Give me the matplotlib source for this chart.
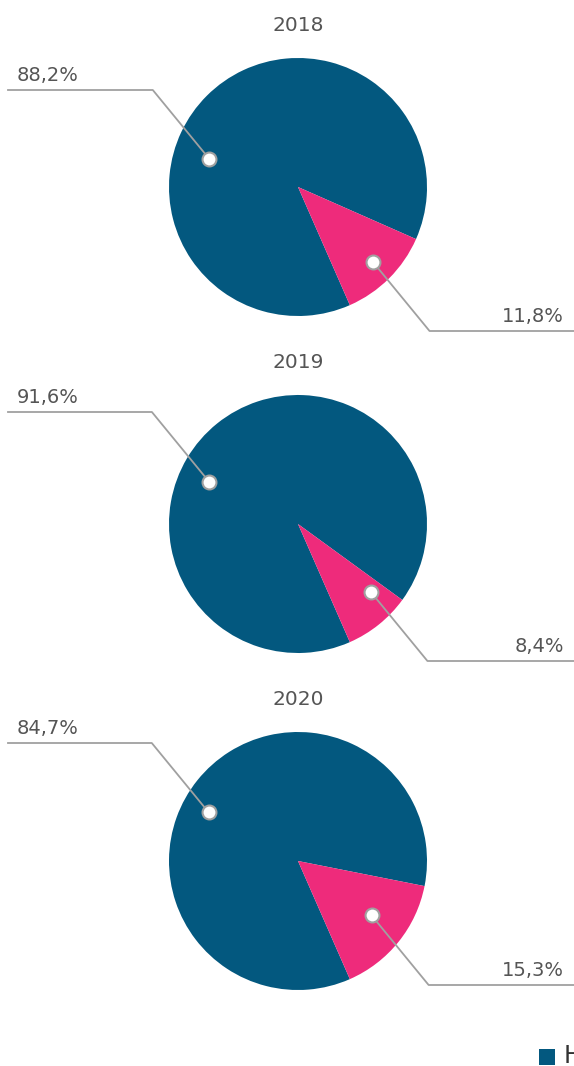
import matplotlib
matplotlib.use("Agg")
import matplotlib.pyplot as plt
import numpy as np

years = ["2018", "2019", "2020"]
blue_vals = [88.2, 91.6, 84.7]
pink_vals = [11.8, 8.4, 15.3]
blue_labels = ["88,2%", "91,6%", "84,7%"]
pink_labels = ["11,8%", "8,4%", "15,3%"]
legend_labels = ["Hombres"]

# layout (pixel units, top-down y)
W, H = 574, 1066
centers_y = [187, 524, 861]
cx = 298
R = 129
start_angle = -66.3
blue_anchor = [(162.5, 0.72), (154.7, 0.76), (151.4, 0.79)]
pink_anchor = [(-45.0, 0.82), (-43.0, 0.77), (-36.5, 0.71)]
blue_line_y = [90, 412, 743]
pink_line_y = [331, 661, 985]
title_base_y = [31, 368, 705]

BLUE = "#03587f"
PINK = "#ee2b7b"
GRAY = "#a0a0a0"
TXT = "#555555"
FONT = ['DejaVu Sans']

plt.rcParams['font.family'] = FONT
fig = plt.figure(figsize=(W / 100, H / 100), dpi=100)
ax = fig.add_axes([0, 0, 1, 1])

def fy(y):
    return H - y

for i in range(3):
    cy = fy(centers_y[i])
    ax.pie([blue_vals[i], pink_vals[i]], colors=[BLUE, PINK], startangle=start_angle,
           counterclock=False, radius=R, center=(cx, cy),
           wedgeprops=dict(linewidth=0))
    ax.text(cx, fy(title_base_y[i]), years[i], ha='center', va='baseline',
            fontsize=14.5, color=TXT)

    # blue label
    a, f = blue_anchor[i]
    bx = cx + f * R * np.cos(np.radians(a))
    by = cy + f * R * np.sin(np.radians(a))
    ly = fy(blue_line_y[i])
    knee_x = bx - abs(ly - by) * 0.82
    ax.plot([8, knee_x, bx], [ly, ly, by], color=GRAY, lw=1.3, zorder=5)
    ax.plot(bx, by, 'o', ms=10, mfc='white', mec=GRAY, mew=1.5, zorder=6)
    ax.text(17, ly + 9, blue_labels[i], ha='left', va='baseline', fontsize=14, color=TXT)

    # pink label
    a, f = pink_anchor[i]
    px = cx + f * R * np.cos(np.radians(a))
    py = cy + f * R * np.sin(np.radians(a))
    ly = fy(pink_line_y[i])
    knee_x = px + abs(py - ly) * 0.82
    ax.plot([px, knee_x, W], [py, ly, ly], color=GRAY, lw=1.3, zorder=5)
    ax.plot(px, py, 'o', ms=10, mfc='white', mec=GRAY, mew=1.5, zorder=6)
    ax.text(564, ly + 9, pink_labels[i], ha='right', va='baseline', fontsize=14, color=TXT)

# legend (cut off at right edge)
ax.add_patch(plt.Rectangle((539, fy(1065)), 16, 16, color=BLUE, lw=0))
ax.text(564, fy(1063), legend_labels[0], ha='left', va='baseline', fontsize=17,
        color='#333333')

ax.set_xlim(0, W)
ax.set_ylim(0, H)
ax.set_aspect('equal')
ax.axis('off')

fig.savefig("out.png", dpi=100)
